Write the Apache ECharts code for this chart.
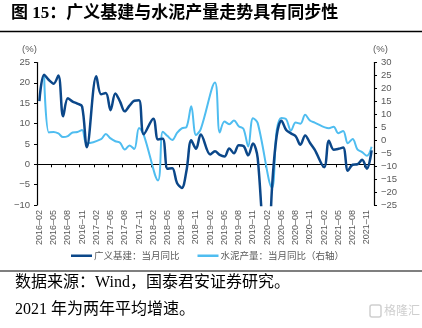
<!DOCTYPE html>
<html>
<head>
<meta charset="utf-8">
<script src="https://cdn.jsdelivr.net/npm/echarts@6/dist/echarts.min.js"></script>
<style>
  html, body { margin: 0; padding: 0; background: #fff; }
  #chart { width: 422px; height: 328px; }
</style>
</head>
<body>
<div id="chart"></div>
<script>
// Monthly categories, Feb 2016 – Dec 2021
const months = [
  '2016-02','2016-03','2016-04','2016-05','2016-06','2016-07','2016-08','2016-09','2016-10','2016-11','2016-12',
  '2017-01','2017-02','2017-03','2017-04','2017-05','2017-06','2017-07','2017-08','2017-09','2017-10','2017-11','2017-12',
  '2018-01','2018-02','2018-03','2018-04','2018-05','2018-06','2018-07','2018-08','2018-09','2018-10','2018-11','2018-12',
  '2019-01','2019-02','2019-03','2019-04','2019-05','2019-06','2019-07','2019-08','2019-09','2019-10','2019-11','2019-12',
  '2020-01','2020-02','2020-03','2020-04','2020-05','2020-06','2020-07','2020-08','2020-09','2020-10','2020-11','2020-12',
  '2021-01','2021-02','2021-03','2021-04','2021-05','2021-06','2021-07','2021-08','2021-09','2021-10','2021-11','2021-12'
];

// 广义基建：当月同比 (%), left axis
const infraYoY = [
  15.5, 22.0, 20.7, 19.8, 21.8, 11.8, 16.2, 15.4, 14.9, 14.2, 4.2,
  null, 21.6, 17.2, 17.5, 13.3, 17.4, 15.4, 13.0, 14.4, 15.6, 15.7, 7.4,
  null, 11.2, 6.1, 6.3, -1.1, -1.0, -4.6, -5.8, -1.5, 5.9, 3.8, 7.3,
  null, 2.4, 3.2, 2.3, 1.9, 3.9, 2.7, 4.7, 4.5, 2.2, 5.1, 1.5,
  null, -30.0, -6.0, 7.0, 10.7, 8.4, 7.6, 6.9, 4.8, 7.1, 5.3, 3.6,
  null, -0.7, 5.8, 3.6, 3.8, 4.1, -1.6, -0.1, 0.0, 1.1, -1.1, 3.4
];

// 水泥产量：当月同比 (%), right axis
const cementYoY = [
  null, 25.0, 3.0, 3.2, 2.6, 1.2, 1.6, 3.0, 3.2, 3.9, -1.2,
  null, null, 0.4, 2.4, 0.7, -0.4, -1.0, -3.6, -2.0, -3.4, 4.7, 2.0,
  null, null, -15.5, 3.3, 1.6, 0.1, 2.8, 4.6, 5.1, 13.1, 2.0, 4.3,
  null, null, 22.3, 3.0, 7.2, 6.2, 7.6, 5.4, 4.4, -2.4, 8.5, 6.6,
  null, null, -18.3, 3.8, 8.6, 8.1, 3.7, 6.8, 6.4, 9.8, 7.6, 6.8,
  null, null, 4.6, 5.2, 2.7, 3.6, -1.2, 0.5, -3.5, -4.6, -6.0, -2.5
];

const seriesNames = ['广义基建：当月同比', '水泥产量：当月同比（右轴）'];
const leftRange = [-10, 25];
const rightRange = [-25, 30];
const tickStep = 5;

const titleText = '图 15：广义基建与水泥产量走势具有同步性';
const sourceText = '数据来源：Wind，国泰君安证券研究。';
const noteText = '2021 年为两年平均增速。';

const darkBlue = '#0b4789';
const skyBlue = '#4fbdf0';
const labelGray = '#595959';
const sansFont = "'Liberation Sans', Arial, sans-serif";
const cjkFont = "'Noto Sans CJK SC', sans-serif";
const serifMix = "'Liberation Serif', 'Noto Sans CJK SC', serif";

const minusFmt = v => String(v).replace('-', '\u2212');

const chart = echarts.init(document.getElementById('chart'), null, { renderer: 'canvas' });

chart.setOption({
  animation: false,
  backgroundColor: '#fff',
  grid: { left: 37, right: 48, top: 62.5, bottom: 123, containLabel: false },
  legend: {
    data: seriesNames,
    left: 66,
    top: 246,
    icon: 'rect',
    itemWidth: 21,
    itemHeight: 2.5,
    itemGap: 18,
    textStyle: { fontSize: 9.5, color: labelGray, fontFamily: cjkFont, padding: [0, 0, 0, -3] }
  },
  xAxis: [
    {
      type: 'category',
      data: months,
      boundaryGap: true,
      position: 'bottom',
      axisLine: { show: false, onZero: false },
      axisTick: { show: false },
      axisLabel: {
        interval: 2, rotate: 90, fontSize: 9, color: labelGray, margin: 5,
        fontFamily: sansFont, formatter: v => v.replace('-', '\u2013')
      },
      splitLine: { show: false }
    },
    {
      type: 'category',
      data: months,
      boundaryGap: true,
      position: 'bottom',
      axisLine: { show: true, onZero: true, onZeroAxisIndex: 0, lineStyle: { color: '#000', width: 1.2 } },
      axisTick: { show: true, interval: 2, length: 3, lineStyle: { color: '#000', width: 1 } },
      axisLabel: { show: false },
      splitLine: { show: false }
    }
  ],
  yAxis: [
    {
      type: 'value',
      position: 'left',
      min: leftRange[0], max: leftRange[1], interval: tickStep,
      name: '(%)',
      nameGap: 8,
      nameTextStyle: { fontSize: 9.5, color: labelGray, fontFamily: sansFont, padding: [0, 15, 0, 0] },
      axisLine: { show: true, onZero: false, lineStyle: { color: '#000', width: 1.2 } },
      axisTick: { show: true, length: 3, lineStyle: { color: '#000' } },
      axisLabel: { fontSize: 9.5, color: labelGray, margin: 7, fontFamily: sansFont, formatter: minusFmt },
      splitLine: { show: false }
    },
    {
      type: 'value',
      position: 'right',
      min: rightRange[0], max: rightRange[1], interval: tickStep,
      name: '(%)',
      nameGap: 8,
      nameTextStyle: { fontSize: 9.5, color: labelGray, fontFamily: sansFont, padding: [0, 0, 0, 13] },
      axisLine: { show: true, onZero: false, lineStyle: { color: '#000', width: 1.2 } },
      axisTick: { show: true, length: 3, lineStyle: { color: '#000' } },
      axisLabel: { fontSize: 9.5, color: labelGray, margin: 7, fontFamily: sansFont, formatter: minusFmt },
      splitLine: { show: false }
    }
  ],
  series: [
    {
      name: seriesNames[1],
      type: 'line',
      xAxisIndex: 0,
      yAxisIndex: 1,
      data: cementYoY,
      smooth: 0.35,
      connectNulls: true,
      symbol: 'none',
      clip: true,
      lineStyle: { color: skyBlue, width: 2 },
      itemStyle: { color: skyBlue },
      z: 2
    },
    {
      name: seriesNames[0],
      type: 'line',
      xAxisIndex: 0,
      yAxisIndex: 0,
      data: infraYoY,
      smooth: 0.35,
      connectNulls: true,
      symbol: 'none',
      clip: true,
      lineStyle: { color: darkBlue, width: 2.5 },
      itemStyle: { color: darkBlue },
      z: 3
    }
  ],
  graphic: [
    {
      type: 'text', left: 11, top: 5,
      style: { text: titleText, fontSize: 17, fontWeight: 'bold', fontFamily: serifMix, fill: '#000' }
    },
    {
      type: 'line', shape: { x1: 0, y1: 31.5, x2: 422, y2: 31.5 },
      style: { stroke: '#000', lineWidth: 1.3 }
    },
    {
      type: 'line', shape: { x1: 0, y1: 271, x2: 422, y2: 271 },
      style: { stroke: '#000', lineWidth: 1.2 }
    },
    {
      type: 'text', left: 15, top: 275,
      style: { text: sourceText, fontSize: 16, fontFamily: serifMix, fill: '#000' }
    },
    {
      type: 'text', left: 15, top: 302,
      style: { text: noteText, fontSize: 16, fontFamily: serifMix, fill: '#000' }
    },
    {
      type: 'rect', shape: { x: 370, y: 305, width: 11, height: 12, r: 2 },
      style: { fill: 'none', stroke: '#cfcfcf', lineWidth: 1.5 }
    },
    {
      type: 'text', left: 384, top: 304,
      style: { text: '格隆汇', fontSize: 12, fontFamily: cjkFont, fill: '#cfcfcf' }
    }
  ]
});
</script>
</body>
</html>
